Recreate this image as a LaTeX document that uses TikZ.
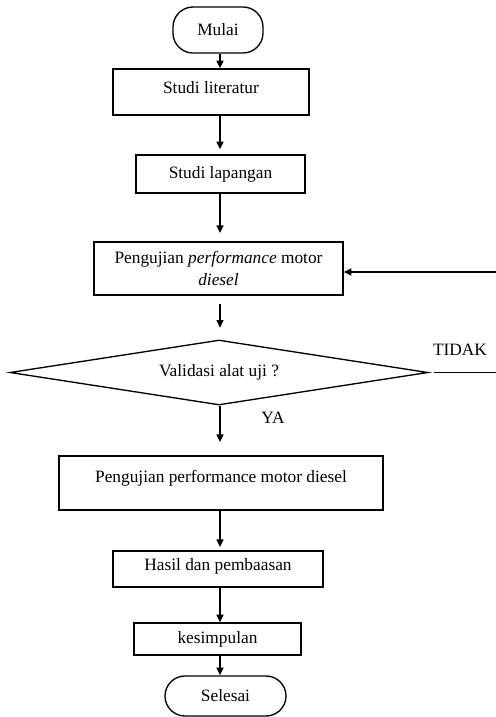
\documentclass[tikz,border=0pt]{standalone}
\usepackage{fontspec}
\setmainfont{Liberation Serif}
\usetikzlibrary{shapes.geometric,arrows.meta}

\begin{document}
\begin{tikzpicture}[x=0.6pt, y=-0.6pt, line width=0.8pt, >={Triangle[length=4.6pt,width=4.2pt]},
every node/.style={font=\fontsize{10.4}{13}\selectfont},
process node/.style={rectangle,draw,inner sep=0pt,align=center},
term node/.style={rectangle,draw,rounded corners=12pt,inner sep=0pt},
decision node/.style={diamond,draw,inner sep=0pt,aspect=6.43}]
\useasboundingbox (0,0) rectangle (496,717);
\begin{scope}
\node[term node,minimum width=54pt,minimum height=27.6pt] (mulai) at (218,30) {Mulai};
\node[process node,minimum width=117.6pt,minimum height=27.6pt,text depth=6pt] (lit) at (211,92) {Studi literatur};
\node[process node,minimum width=101.4pt,minimum height=22.8pt] (lap) at (220.5,174) {Studi lapangan};
\node[process node,minimum width=149.4pt,minimum height=31.8pt] (uji1) at (218.5,268.5) {Pengujian \textit{performance} motor\\\textit{diesel}};
\node[decision node,minimum width=250.8pt,minimum height=39pt] (valid) at (219,372.5) {Validasi alat uji ?};
\node[process node,minimum width=194.4pt,minimum height=32.4pt,text depth=8pt] (uji2) at (221,483) {Pengujian performance motor diesel};
\node[process node,minimum width=126pt,minimum height=21.6pt,text depth=5.5pt] (hasil) at (218,569) {Hasil dan pembaasan};
\node[process node,minimum width=100.2pt,minimum height=19.2pt] (kes) at (217.5,639) {kesimpulan};
\node[term node,minimum width=72.6pt,minimum height=24pt] (selesai) at (225.5,696) {Selesai};
\node (tidak) at (460,350) {TIDAK};
\node (ya) at (273,418) {YA};
\end{scope}
\coordinate (axis) at (220,0);
\coordinate (back) at (496,272);
\coordinate (tidak end) at (496,371);
\begin{scope}
\draw[->] (axis |- mulai.south) -- (axis |- lit.north);
\draw[->,shorten >=3pt] (axis |- lit.south) -- (axis |- lap.north);
\draw[->,shorten >=5pt] (axis |- lap.south) -- (axis |- uji1.north);
\draw[->,shorten <=4.8pt,shorten >=7pt] (axis |- uji1.south) -- (axis |- valid.north);
\draw[->,shorten >=8pt] (axis |- valid.south) -- (axis |- uji2.north);
\draw[->,shorten >=2pt] (axis |- uji2.south) -- (axis |- hasil.north);
\draw[->] (axis |- hasil.south) -- (axis |- kes.north);
\draw[->] (axis |- kes.south) -- (axis |- selesai.north);
\draw[->] (back) -- (back -| uji1.east);
\draw[shorten <=3pt] (valid.east) -- (valid.east -| tidak end);
\end{scope}
\end{tikzpicture}
\end{document}
